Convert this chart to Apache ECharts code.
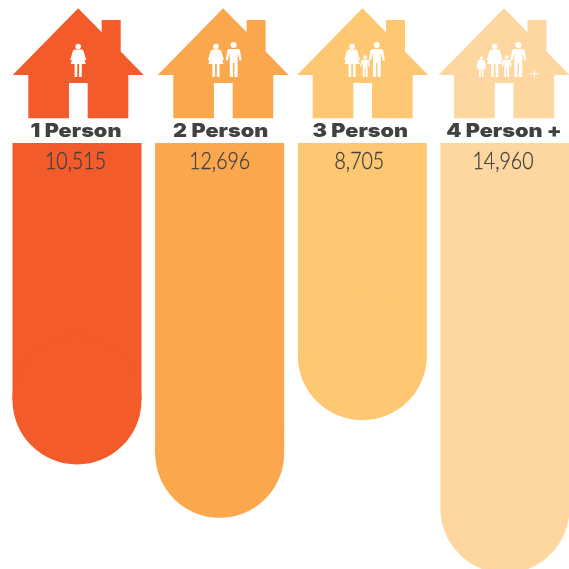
<!DOCTYPE html>
<html>
<head>
<meta charset="utf-8">
<style>
  html, body { margin: 0; padding: 0; background: #fff; }
  #chart { width: 569px; height: 569px; }
</style>
<script src="https://cdn.jsdelivr.net/npm/echarts@6/dist/echarts.min.js"></script>
</head>
<body>
<div id="chart"></div>
<script>
const categories = ['1 Person', '2 Person', '3 Person', '4 Person +'];
const households = [10515, 12696, 8705, 14960];
// who stands in each house
const occupants = [
  ['woman'],
  ['woman', 'man'],
  ['woman', 'boy', 'man'],
  ['girl', 'woman', 'boy', 'man', 'plus'],
];

const colors = ['#f45b2a', '#fba74d', '#fec872', '#fed69f'];
const textColor = '#414042';
const capRadius = 64.5;

// the original artwork is slightly off the column centres
const houseShift = [1.2, 3.5, 0.2, -1];
const titleShift = [-1, 1, -2, -1];
const valueShift = [-1.5, 0, -3, -2];
const occupantX = [
  [0],
  [-7.2, 10.5],
  [-10.4, 2.6, 14.3],
  [-22.7, -9.3, 2.7, 14.3, 30.3],
];

const housePts = [
  [0, -134.7], [23.5, -110.8], [23.5, -123], [42.5, -123], [42.5, -91.4],
  [65.5, -68], [50.1, -68], [50.1, -24.7], [9.5, -24.7], [9.5, -60],
  [-9.2, -60], [-9.2, -24.7], [-49.9, -24.7], [-49.9, -68], [-65.5, -68],
];
const womanPts = [
  [-3.5, -27.5], [3.5, -27.5], [5.2, -26.5], [8, -17], [6.5, -16.4], [4.3, -22.5],
  [7.5, -13], [3.6, -13], [3.6, 0], [0.9, 0], [0.9, -13], [-0.9, -13], [-0.9, 0],
  [-3.6, 0], [-3.6, -13], [-7.5, -13], [-4.3, -22.5], [-6.5, -16.4], [-8, -17], [-5.2, -26.5],
];
const manPts = [
  [-4.5, -28], [4.5, -28], [6.3, -26.8], [8, -16.8], [6, -16.4], [3.9, -24], [3.9, 0],
  [0.7, 0], [0.7, -14], [-0.7, -14], [-0.7, 0], [-3.9, 0], [-3.9, -24], [-6, -16.4],
  [-8, -16.8], [-6.3, -26.8],
];

function person(pts, headY, headR, x, y, scale) {
  return [
    {
      type: 'polygon',
      x: x,
      y: y,
      scaleX: scale,
      scaleY: scale,
      shape: { points: pts },
      style: { fill: '#fff' },
    },
    {
      type: 'circle',
      shape: { cx: x, cy: y + headY * scale, r: headR * scale },
      style: { fill: '#fff' },
    },
  ];
}

function figure(kind, x, y) {
  if (kind === 'woman') return person(womanPts, -30.5, 2.8, x, y, 1);
  if (kind === 'man') return person(manPts, -32, 3, x, y, 1);
  if (kind === 'girl') return person(womanPts, -30.5, 2.8, x, y, 0.62);
  if (kind === 'boy') return person(manPts, -32, 3, x, y, 0.62);
  // the little plus beside the family
  return [
    { type: 'rect', shape: { x: x - 4.3, y: y - 3.7, width: 8.6, height: 0.9 }, style: { fill: '#fff' } },
    { type: 'rect', shape: { x: x - 0.45, y: y - 7.6, width: 0.9, height: 8.6 }, style: { fill: '#fff' } },
  ];
}

function renderItem(params, api) {
  const i = api.value(0);
  const top = api.coord([i, 0]);
  const end = api.coord([i, api.value(1)]);
  const half = 64.5;
  const cx = top[0];
  const hx = cx + houseShift[i];
  let children = [
    {
      type: 'rect',
      shape: { x: cx - half, y: top[1], width: half * 2, height: end[1] - top[1] },
      style: { fill: colors[i] },
    },
    {
      type: 'circle',
      shape: { cx: cx, cy: end[1], r: capRadius },
      style: { fill: colors[i] },
    },
    {
      type: 'polygon',
      x: hx,
      y: top[1],
      shape: { points: housePts },
      style: { fill: colors[i] },
    },
  ];
  occupants[i].forEach((kind, k) => {
    children = children.concat(figure(kind, hx + occupantX[i][k], top[1] - 66));
  });
  children.push({
    type: 'text',
    x: cx + titleShift[i],
    y: top[1] - 11.5,
    scaleX: 1.17,
    style: {
      text: categories[i],
      align: 'center',
      verticalAlign: 'middle',
      fill: textColor,
      font: '900 18.5px Inter',
    },
  });
  children.push({
    type: 'text',
    x: cx + valueShift[i],
    y: top[1] + 18.5,
    scaleX: 0.85,
    style: {
      text: api.value(1).toLocaleString('en-US'),
      align: 'center',
      verticalAlign: 'middle',
      fill: textColor,
      stroke: textColor,
      lineWidth: 0.3,
      font: '300 23px Lato',
    },
  });
  return { type: 'group', children: children };
}

const chart = echarts.init(document.getElementById('chart'));
chart.setOption({
  animation: false,
  grid: { left: 77, top: 143, right: 64, bottom: 0 },
  xAxis: { type: 'category', data: categories, boundaryGap: false, show: false },
  yAxis: { type: 'value', inverse: true, min: 0, max: 17430, show: false },
  series: [
    {
      type: 'custom',
      clip: false,
      renderItem: renderItem,
      encode: { x: 0, y: 1 },
      data: categories.map((c, i) => [i, households[i]]),
    },
  ],
});
</script>
</body>
</html>
